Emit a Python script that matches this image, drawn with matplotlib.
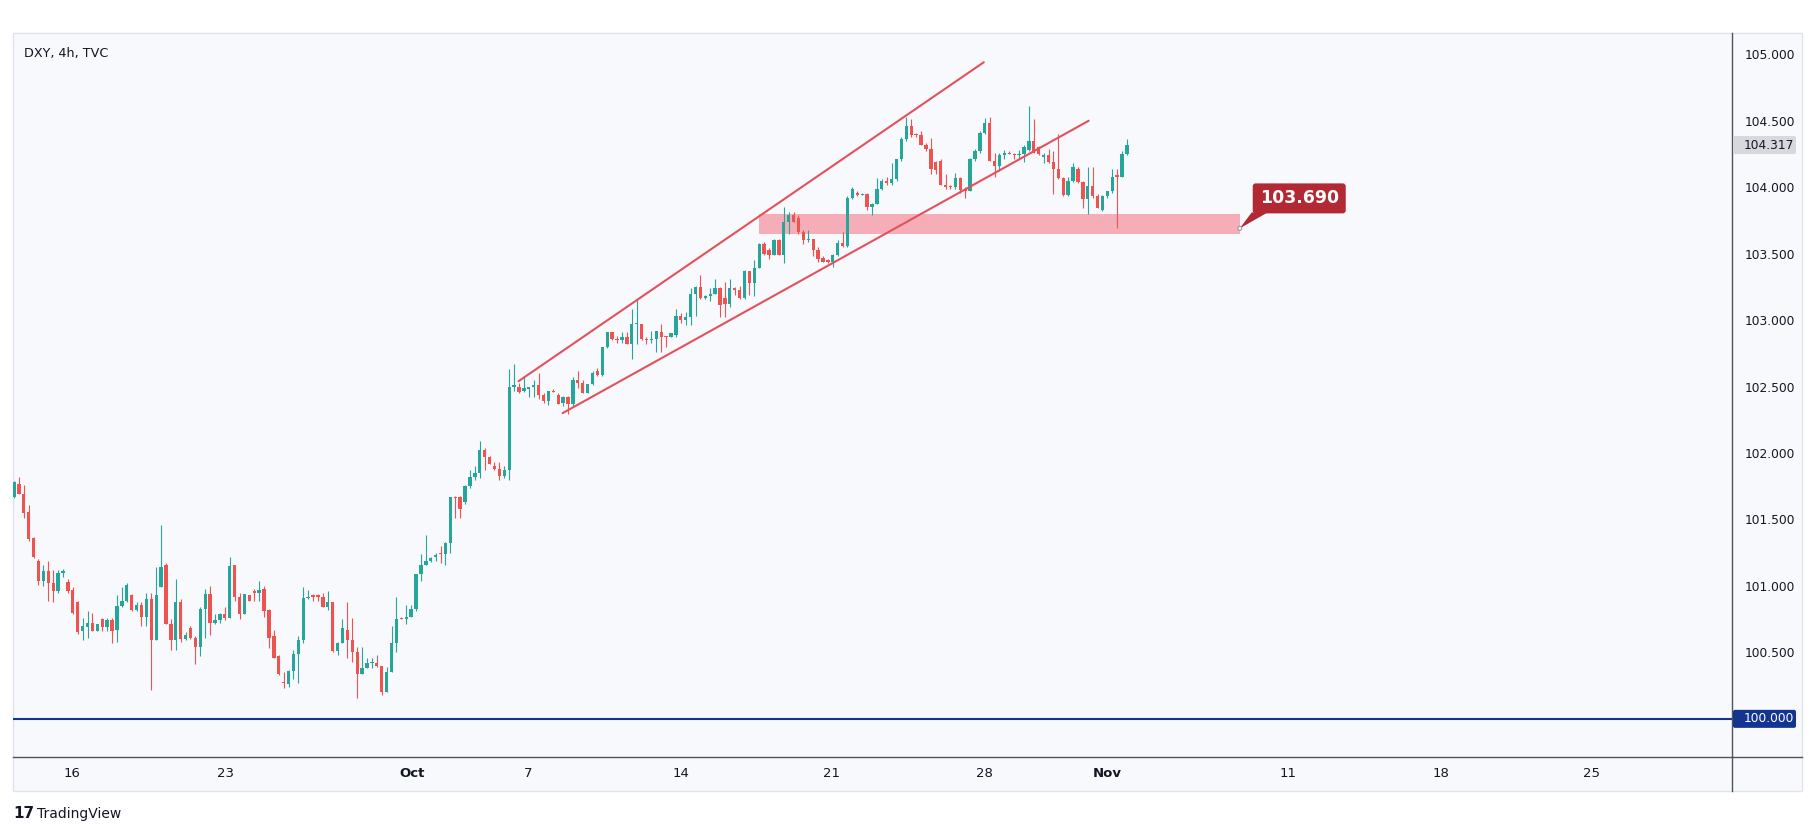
import numpy as np
import matplotlib.pyplot as plt
from matplotlib.patches import Rectangle, Polygon, FancyBboxPatch, Circle
from matplotlib.lines import Line2D
from matplotlib.transforms import IdentityTransform

W, H = 1815, 836

# DXY 4h candles (Sep 12 .. Nov 1)
opens = [101.67, 101.77, 101.69, 101.56, 101.36, 101.19, 101.04, 101.11, 101.02, 100.96,
         101.10, 101.03, 100.97, 100.88, 100.66, 100.69, 100.72, 100.66, 100.75, 100.69,
         100.74, 100.67, 100.85, 100.89, 100.93, 100.82, 100.86, 100.77, 100.90, 100.59,
         100.99, 101.16, 100.71, 100.59, 100.88, 100.60, 100.68, 100.61, 100.54, 100.83,
         100.94, 100.72, 100.74, 100.79, 100.76, 101.16, 100.92, 100.79, 100.93, 100.96,
         100.95, 100.98, 100.82, 100.62, 100.47, 100.28, 100.26, 100.36, 100.49, 100.59,
         100.91, 100.93, 100.93, 100.92, 100.84, 100.88, 100.51, 100.57, 100.67, 100.59,
         100.50, 100.34, 100.38, 100.42, 100.42, 100.40, 100.20, 100.35, 100.57, 100.76,
         100.75, 100.77, 100.83, 101.09, 101.16, 101.19, 101.22, 101.25, 101.24, 101.32,
         101.67, 101.67, 101.63, 101.75, 101.82, 101.85, 102.02, 101.97, 101.90, 101.88,
         101.83, 101.87, 102.50, 102.50, 102.47, 102.48, 102.50, 102.51, 102.44, 102.39,
         102.47, 102.44, 102.38, 102.42, 102.37, 102.55, 102.53, 102.45, 102.52, 102.62,
         102.59, 102.80, 102.91, 102.86, 102.85, 102.87, 102.82, 102.97, 102.97, 102.86,
         102.85, 102.86, 102.91, 102.88, 102.87, 102.89, 103.03, 103.00, 103.02, 103.20,
         103.25, 103.17, 103.18, 103.20, 103.24, 103.17, 103.12, 103.24, 103.23, 103.17,
         103.37, 103.28, 103.39, 103.57, 103.53, 103.49, 103.60, 103.49, 103.74, 103.79,
         103.77, 103.66, 103.60, 103.61, 103.53, 103.47, 103.45, 103.44, 103.49, 103.58,
         103.56, 103.92, 103.96, 103.94, 103.95, 103.85, 103.87, 103.99, 104.05, 104.03,
         104.06, 104.21, 104.36, 104.46, 104.40, 104.39, 104.32, 104.29, 104.19, 104.20,
         104.02, 104.01, 104.00, 104.07, 103.99, 103.97, 104.21, 104.27, 104.41, 104.48,
         104.20, 104.16, 104.24, 104.26, 104.25, 104.24, 104.25, 104.28, 104.35, 104.30,
         104.23, 104.24, 104.19, 104.14, 104.07, 103.94, 104.05, 104.14, 104.04, 103.91,
         104.01, 103.93, 103.83, 103.93, 103.97, 104.09, 104.08, 104.25]
highs = [101.79, 101.82, 101.76, 101.61, 101.37, 101.20, 101.16, 101.19, 101.12, 101.12,
         101.13, 101.05, 100.99, 100.89, 100.76, 100.81, 100.80, 100.71, 100.76, 100.76,
         100.76, 100.93, 100.99, 101.02, 100.94, 100.88, 100.88, 100.95, 100.95, 101.14,
         101.46, 101.17, 100.75, 101.05, 100.90, 100.65, 100.70, 100.62, 100.84, 100.98,
         101.00, 100.79, 100.80, 100.84, 101.22, 101.16, 100.95, 100.94, 100.93, 100.98,
         101.04, 101.00, 100.83, 100.67, 100.48, 100.35, 100.37, 100.52, 100.62, 100.99,
         100.97, 100.94, 100.94, 100.95, 100.96, 100.88, 100.58, 100.75, 100.88, 100.76,
         100.54, 100.54, 100.46, 100.46, 100.48, 100.40, 100.39, 100.70, 100.92, 100.77,
         100.86, 100.86, 101.09, 101.24, 101.38, 101.22, 101.25, 101.30, 101.33, 101.67,
         101.68, 101.68, 101.76, 101.87, 101.90, 102.09, 102.04, 101.98, 101.93, 101.93,
         101.90, 102.63, 102.67, 102.53, 102.58, 102.50, 102.55, 102.60, 102.45, 102.47,
         102.48, 102.45, 102.43, 102.43, 102.57, 102.62, 102.55, 102.52, 102.62, 102.64,
         102.80, 102.91, 102.91, 102.88, 102.91, 102.91, 103.08, 103.15, 102.97, 102.87,
         102.92, 102.92, 102.97, 102.88, 102.90, 103.08, 103.05, 103.06, 103.24, 103.26,
         103.34, 103.19, 103.24, 103.31, 103.25, 103.29, 103.31, 103.25, 103.26, 103.38,
         103.37, 103.45, 103.58, 103.59, 103.54, 103.61, 103.61, 103.85, 103.81, 103.81,
         103.79, 103.68, 103.68, 103.61, 103.55, 103.48, 103.46, 103.50, 103.60, 103.66,
         103.93, 104.00, 103.97, 103.96, 103.96, 103.88, 104.07, 104.06, 104.08, 104.18,
         104.21, 104.38, 104.53, 104.51, 104.41, 104.42, 104.33, 104.37, 104.20, 104.21,
         104.10, 104.02, 104.11, 104.08, 104.00, 104.22, 104.29, 104.42, 104.52, 104.53,
         104.26, 104.26, 104.28, 104.27, 104.26, 104.28, 104.32, 104.61, 104.51, 104.31,
         104.26, 104.29, 104.27, 104.40, 104.08, 104.08, 104.18, 104.15, 104.05, 104.15,
         104.15, 103.95, 103.94, 103.97, 104.14, 104.14, 104.27, 104.36]
lows = [101.66, 101.69, 101.51, 101.34, 101.21, 101.01, 101.00, 100.89, 100.88, 100.95,
        101.07, 100.95, 100.79, 100.64, 100.59, 100.61, 100.66, 100.66, 100.66, 100.66,
        100.57, 100.58, 100.84, 100.88, 100.81, 100.81, 100.70, 100.70, 100.22, 100.59,
        100.99, 100.71, 100.52, 100.52, 100.58, 100.59, 100.60, 100.41, 100.47, 100.61,
        100.63, 100.71, 100.72, 100.74, 100.76, 100.89, 100.75, 100.79, 100.89, 100.89,
        100.89, 100.77, 100.53, 100.46, 100.33, 100.23, 100.24, 100.30, 100.27, 100.57,
        100.90, 100.89, 100.89, 100.84, 100.82, 100.50, 100.48, 100.57, 100.46, 100.43,
        100.16, 100.34, 100.38, 100.38, 100.39, 100.18, 100.20, 100.35, 100.50, 100.75,
        100.71, 100.77, 100.81, 101.04, 101.16, 101.18, 101.19, 101.17, 101.16, 101.25,
        101.51, 101.51, 101.62, 101.74, 101.80, 101.81, 101.87, 101.92, 101.87, 101.80,
        101.81, 101.80, 102.47, 102.45, 102.46, 102.42, 102.42, 102.41, 102.38, 102.36,
        102.46, 102.37, 102.35, 102.29, 102.35, 102.49, 102.45, 102.45, 102.51, 102.58,
        102.58, 102.79, 102.85, 102.83, 102.83, 102.82, 102.71, 102.82, 102.85, 102.82,
        102.83, 102.76, 102.76, 102.80, 102.87, 102.87, 102.98, 102.96, 102.96, 103.03,
        103.16, 103.16, 103.14, 103.20, 103.02, 103.02, 103.10, 103.19, 103.16, 103.16,
        103.19, 103.18, 103.39, 103.49, 103.46, 103.49, 103.49, 103.43, 103.65, 103.74,
        103.65, 103.57, 103.59, 103.48, 103.44, 103.44, 103.43, 103.40, 103.48, 103.55,
        103.55, 103.91, 103.93, 103.94, 103.83, 103.79, 103.87, 103.98, 104.02, 104.02,
        104.05, 104.20, 104.35, 104.38, 104.38, 104.32, 104.27, 104.10, 104.10, 104.02,
        103.99, 103.99, 103.99, 103.96, 103.92, 103.97, 104.20, 104.26, 104.40, 104.20,
        104.08, 104.12, 104.21, 104.25, 104.21, 104.22, 104.19, 104.27, 104.26, 104.24,
        104.18, 104.18, 103.95, 104.06, 103.93, 103.93, 104.04, 104.03, 103.84, 103.80,
        103.92, 103.84, 103.82, 103.92, 103.96, 103.69, 104.08, 104.24]
closes = [101.78, 101.69, 101.55, 101.35, 101.22, 101.04, 101.11, 101.02, 100.96, 101.10,
          101.11, 100.96, 100.80, 100.65, 100.70, 100.72, 100.66, 100.71, 100.69, 100.74,
          100.66, 100.85, 100.89, 101.01, 100.82, 100.86, 100.77, 100.90, 100.59, 100.93,
          101.14, 100.71, 100.59, 100.88, 100.60, 100.63, 100.61, 100.54, 100.83, 100.94,
          100.72, 100.74, 100.79, 100.76, 101.15, 100.92, 100.79, 100.94, 100.89, 100.95,
          100.97, 100.81, 100.61, 100.46, 100.34, 100.27, 100.36, 100.49, 100.59, 100.91,
          100.92, 100.92, 100.92, 100.84, 100.88, 100.51, 100.57, 100.68, 100.59, 100.50,
          100.34, 100.38, 100.42, 100.43, 100.40, 100.20, 100.35, 100.57, 100.75, 100.75,
          100.77, 100.83, 101.09, 101.16, 101.19, 101.21, 101.23, 101.24, 101.32, 101.67,
          101.66, 101.58, 101.75, 101.82, 101.85, 102.02, 101.97, 101.92, 101.88, 101.83,
          101.87, 102.50, 102.51, 102.46, 102.49, 102.50, 102.51, 102.44, 102.39, 102.47,
          102.46, 102.37, 102.42, 102.37, 102.55, 102.53, 102.45, 102.52, 102.60, 102.59,
          102.80, 102.91, 102.86, 102.85, 102.87, 102.82, 102.97, 102.97, 102.86, 102.85,
          102.86, 102.92, 102.87, 102.87, 102.90, 103.03, 103.00, 103.02, 103.20, 103.25,
          103.17, 103.18, 103.20, 103.24, 103.11, 103.12, 103.24, 103.23, 103.17, 103.37,
          103.28, 103.39, 103.57, 103.50, 103.49, 103.60, 103.49, 103.74, 103.79, 103.74,
          103.66, 103.60, 103.61, 103.53, 103.46, 103.44, 103.44, 103.49, 103.58, 103.56,
          103.92, 103.99, 103.94, 103.95, 103.85, 103.87, 103.99, 104.05, 104.03, 104.06,
          104.21, 104.36, 104.46, 104.39, 104.39, 104.32, 104.29, 104.14, 104.13, 104.02,
          104.00, 104.00, 104.07, 103.98, 103.97, 104.21, 104.27, 104.41, 104.48, 104.20,
          104.16, 104.24, 104.26, 104.25, 104.24, 104.25, 104.30, 104.35, 104.26, 104.25,
          104.24, 104.19, 104.14, 104.07, 103.94, 104.05, 104.15, 104.04, 103.91, 104.01,
          103.93, 103.84, 103.93, 103.97, 104.08, 104.08, 104.25, 104.32]

# time axis (bar index of first bar of the day)
date_ticks = [11.8, 43.2, 81.2, 104.8, 136.0, 166.8, 198.0, 222.9, 259.8, 291.0, 321.8]
date_labels = ['16', '23', 'Oct', '7', '14', '21', '28', 'Nov', '11', '18', '25']
price_ticks = [100.5, 101.0, 101.5, 102.0, 102.5, 103.0, 103.5, 104.0, 104.5, 105.0]

# drawings
upper_x, upper_y = [102.9, 197.8], [102.54, 104.94]
lower_x, lower_y = [111.9, 219.2], [102.30, 104.50]
zone_x0, zone_x1 = 152.0, 250.0
zone_lo, zone_hi = 103.65, 103.80
support_level = 103.690
last_price = 104.317
round_level = 100.0

up_col = '#26a69a'
dn_col = '#ef5350'
line_red = '#e4515b'
navy = '#13358f'
txt = '#131722'

def fx(x):
    return x / W

def fy(y):
    return 1 - y / H

fig = plt.figure(figsize=(W / 100, H / 100), dpi=100, facecolor='white')

# chart panel background (kept behind the axes)
fig.patches.append(Rectangle((fx(13), fy(791)), (1802 - 13) / W, (791 - 33) / H,
                             transform=fig.transFigure, facecolor='#f8f9fd',
                             edgecolor='#e0e3eb', lw=1, zorder=-10))

ax = fig.add_axes([fx(13), fy(757), (1732 - 13) / W, (757 - 33) / H])
ax.set_facecolor('none')

n = min(len(opens), len(highs), len(lows), len(closes))
o = np.array(opens[:n])
h = np.array(highs[:n])
l = np.array(lows[:n])
c = np.array(closes[:n])
idx = np.arange(n)
cols = np.where(c >= o, up_col, dn_col)

ax.vlines(idx, l, h, colors=cols, lw=0.8, zorder=3)
bot = np.minimum(o, c)
hgt = np.maximum(np.abs(c - o), 0.008)
ax.bar(idx, hgt, bottom=bot, width=0.68, color=cols, lw=0, zorder=3)

# support zone and channel
ax.add_patch(Rectangle((zone_x0, zone_lo), zone_x1 - zone_x0, zone_hi - zone_lo,
                       facecolor='#f23645', alpha=0.38, lw=0, zorder=2))
ax.plot(upper_x, upper_y, color=line_red, lw=1.5, zorder=4, solid_capstyle='round')
ax.plot(lower_x, lower_y, color=line_red, lw=1.5, zorder=4, solid_capstyle='round')
ax.axhline(round_level, color=navy, lw=1.5, zorder=2)

ax.set_xlim(-0.2, 350.4)
ax.set_ylim(99.713, 105.16)

for s in ['top', 'left']:
    ax.spines[s].set_visible(False)
for s in ['right', 'bottom']:
    ax.spines[s].set_color('#50535e')
    ax.spines[s].set_linewidth(1)

ax.yaxis.tick_right()
ax.set_yticks(price_ticks)
ax.set_yticklabels(['%.3f' % v for v in price_ticks])
ax.tick_params(axis='y', length=0, pad=9, labelsize=8.8, labelcolor=txt)
ax.set_xticks(date_ticks)
ax.set_xticklabels(date_labels)
ax.tick_params(axis='x', length=0, pad=7, labelsize=9.5, labelcolor=txt)
for t in ax.get_xticklabels():
    if t.get_text() in ('Oct', 'Nov'):
        t.set_fontweight('bold')

# axis separator lines running through the scale strips
fig.add_artist(Line2D([fx(1732), fx(1732)], [fy(757), fy(791)], color='#50535e', lw=1,
                      transform=fig.transFigure))
fig.add_artist(Line2D([fx(1732), fx(1802)], [fy(757), fy(757)], color='#50535e', lw=1,
                      transform=fig.transFigure))

fig.canvas.draw()
ident = IdentityTransform()

def price_tag(price, label, fc, tc):
    y = ax.transData.transform((0, price))[1]
    x0 = ax.transAxes.transform((1, 0))[0]
    fig.add_artist(FancyBboxPatch((x0 + 1, y - 9), 63, 18,
                                  boxstyle='round,pad=0,rounding_size=2',
                                  transform=ident, fc=fc, ec='none', zorder=6))
    fig.text(x0 + 12, y, label, transform=ident, ha='left', va='center',
             fontsize=8.8, color=tc, zorder=7)

price_tag(last_price, '%.3f' % last_price, '#d6d8de', txt)
price_tag(round_level, '%.3f' % round_level, navy, 'white')

# callout for the support level
tx, ty = ax.transData.transform((zone_x1, support_level))
fig.add_artist(Polygon([(tx, ty), (tx + 12, ty + 16), (tx + 28, ty + 16)], closed=True,
                       transform=ident, fc='#b22833', ec='none', zorder=6))
fig.add_artist(FancyBboxPatch((tx + 13, ty + 15), 93, 30,
                              boxstyle='round,pad=0,rounding_size=3',
                              transform=ident, fc='#b22833', ec='none', zorder=6))
fig.add_artist(Circle((tx, ty), 2, transform=ident, fc='white', ec='#9598a1',
                      lw=0.8, zorder=7))
fig.text(tx + 59.5, ty + 30, '%.3f' % support_level, transform=ident, ha='center',
         va='center', fontsize=12.5, fontweight='bold', color='white', zorder=8)

# header and branding
fig.text(fx(24), fy(53), 'DXY, 4h, TVC', fontsize=9.2, color=txt, va='center')
fig.text(fx(13), fy(814), '17', fontsize=11, fontweight='heavy', color='#131722',
         va='center')
fig.text(fx(37), fy(814), 'TradingView', fontsize=10, color='#131722', va='center')

fig.savefig('out.png', dpi=100, facecolor='white')
